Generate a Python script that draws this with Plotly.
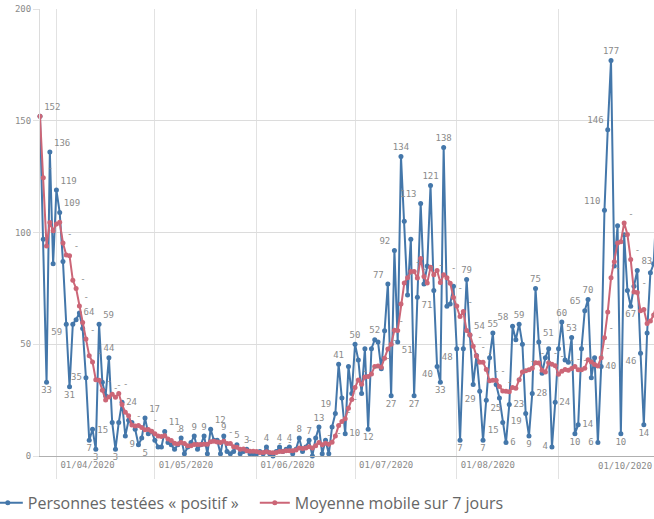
import pandas as pd
import plotly.graph_objects as go

start_date = "2020-03-27"

positifs = [
    # mars (27-31)
    152, 97, 33, 136, 86,
    # avril
    119, 109, 87, 59, 31, 59, 61, 64, 57, 35, 7, 12, 3, 59, 33,
    27, 44, 15, 3, 15, 24, 9, 16, 15, 12, 5, 8, 17, 10, 11,
    # mai
    7, 4, 4, 11, 6, 5, 3, 5, 8, 1, 4, 6, 9, 3, 5, 9, 1, 12, 7, 7,
    1, 9, 2, 1, 2, 5, 1, 2, 3, 1, 1,
    # juin
    1, 2, 1, 4, 1, 0, 2, 4, 2, 3, 4, 1, 3, 8, 2, 4, 7, 0, 8, 13,
    1, 7, 1, 13, 19, 41, 26, 10, 40, 28,
    # juillet
    50, 43, 28, 48, 12, 48, 52, 51, 39, 56, 77, 27, 92, 51, 134, 105, 72, 97, 27, 71,
    113, 77, 85, 121, 74, 40, 33, 138, 67, 68, 76,
    # aout
    48, 7, 48, 79, 54, 32, 45, 29, 7, 25, 44, 55, 32, 26, 15, 6, 23, 58, 52, 59,
    50, 19, 9, 28, 75, 51, 37, 44, 48, 4, 24,
    # septembre
    48, 60, 43, 42, 53, 10, 14, 48, 65, 70, 35, 44, 6, 40, 110, 146, 177, 85, 103, 10,
    99, 74, 67, 76, 83, 46, 14, 55, 82, 86,
    # octobre
    115,
]

moyenne_7j = [
    152, 124.5, 94, 104.5, 100.8, 103.8, 104.6, 95.3, 89.9, 89.6, 78.6, 75, 67.1, 59.7,
    52.3, 44.9, 42.1, 34.1, 33.9, 29.4, 25.1, 26.4, 27.6, 26.3, 28, 23, 19.6, 18, 13.9,
    13.4, 13.7, 12.7, 11.7, 11.9, 11.1, 10, 8.9, 8.7, 9.1, 7.6, 6.9, 5.7, 5.4, 6, 5.6,
    4.6, 4.6, 5.1, 5.1, 5.1, 5.3, 5.3, 6.4, 6.6, 6.3, 6, 6.6, 5.6, 5.6, 4.1, 3.9, 3,
    3.1, 2.3, 2.1, 2.1, 2, 1.6, 1.6, 1.9, 1.6, 1.4, 1.6, 2, 2, 2.3, 2.3, 2.3, 2.7, 3.6,
    3.3, 3.6, 4.1, 3.6, 4.6, 6, 5, 5.7, 5.3, 6.1, 8.9, 13.6, 15.4, 16.7, 21.4, 25.3,
    30.6, 34, 32.1, 35.3, 35.6, 36.7, 40.1, 40.3, 39.7, 43.7, 47.9, 50, 56.3, 56.1, 68,
    77.4, 79.7, 82.6, 82.6, 79.6, 88.4, 80.3, 77.4, 84.4, 81.1, 83, 77.6, 81.1, 79.7,
    77.3, 70.9, 67.1, 62.4, 64.6, 56.1, 54.3, 49.1, 44.7, 42, 42, 38.7, 33.7, 33.9, 33.9,
    31.1, 29.1, 29, 28.7, 30.7, 30.3, 34.1, 37.6, 38.1, 38.6, 39.3, 41.7, 41.6, 38.4,
    37.6, 41.7, 41, 40.4, 36.6, 37.9, 38.7, 38.4, 39.1, 40, 38.6, 38.6, 39.3, 43.1, 42.1,
    40.9, 40.3, 44, 52.9, 64.4, 79.7, 86.9, 95.3, 95.9, 104.3, 99.1, 87.9, 73.4, 73.1,
    65, 65.6, 59.3, 60.4, 63.1, 68.7,
]

dates = pd.date_range(start_date, periods=len(positifs), freq="D")

label_pos = {0: "top right", 2: "bottom center", 3: "top right", 5: "top right", 6: "top right",
             8: "bottom left", 9: "bottom center", 12: "middle right", 14: "middle left",
             15: "bottom center", 17: "bottom center", 18: "top right", 21: "top center",
             22: "bottom left", 23: "bottom center", 25: "middle right", 26: "bottom right",
             30: "bottom right", 32: "top right", 38: "top right", 43: "top center",
             47: "top center", 50: "top center", 52: "top right", 56: "top center",
             60: "top center", 63: "top center", 69: "top center", 73: "top center",
             76: "top center", 79: "top center", 82: "top center", 85: "top center",
             90: "top left", 91: "top center", 93: "middle right", 96: "top center",
             100: "bottom center", 102: "top center", 106: "top left", 107: "bottom center",
             108: "top left", 109: "bottom right", 110: "top center", 114: "bottom center",
             115: "bottom right", 116: "top left", 119: "top center", 121: "bottom left",
             122: "bottom center", 123: "top center", 127: "bottom left", 128: "bottom center",
             130: "top center", 131: "top right", 134: "bottom left", 135: "bottom center",
             136: "bottom right", 138: "top center", 141: "bottom left", 142: "middle right",
             143: "middle right", 144: "top left", 146: "top center", 148: "bottom left",
             149: "bottom center", 150: "middle right", 151: "top center", 152: "top right",
             156: "middle left", 157: "middle right", 159: "top center", 162: "top center",
             163: "bottom center", 164: "middle right", 166: "top left", 167: "top center",
             170: "middle left", 171: "middle right", 172: "top left", 173: "top left",
             174: "top center", 177: "bottom center", 180: "bottom center", 182: "top right",
             183: "bottom left", 184: "bottom center", 188: "middle left"}

dash_idx = [1, 7, 9, 11, 12, 14, 16, 19, 21, 22, 24, 28, 33, 40, 56, 62, 63, 71, 74, 86, 89,
            92, 94, 97, 100, 104, 106, 108, 111, 113, 115, 117, 120, 124, 126, 129, 132, 133,
            135, 137, 139, 141, 144, 146, 148, 151, 153, 155, 157, 160, 162, 164, 166, 169,
            171, 172, 174, 176, 178, 180, 182, 185]

month_ticks = ["2020-04-01", "2020-05-01", "2020-06-01", "2020-07-01", "2020-08-01", "2020-09-01"]
month_text = ["01/04/2020", "01/05/2020", "01/06/2020", "01/07/2020", "01/08/2020", ""]
last_tick_text = "01/10/2020"

BLUE = "#4477aa"
RED = "#cc6677"
GRID = "#e2e2e2"
TXT = "#8a8a8a"
MONO = "DejaVu Sans Mono"

blue_text = [str(v) if i in label_pos else "" for i, v in enumerate(positifs)]
# the last point lies just past the right edge: pad its label so the digits stay on screen
blue_text[-1] = blue_text[-1] + "\u00a0\u00a0"
blue_pos = [label_pos.get(i, "top center") for i in range(len(positifs))]
red_text = ["-" if i in dash_idx else "" for i in range(len(moyenne_7j))]

fig = go.Figure()
fig.add_trace(go.Scatter(
    x=dates, y=positifs, name="Personnes testées « positif »",
    mode="lines+markers+text", text=blue_text, textposition=blue_pos,
    textfont=dict(family=MONO, size=9, color=TXT),
    line=dict(color=BLUE, width=2), marker=dict(color=BLUE, size=5),
    cliponaxis=False,
))
fig.add_trace(go.Scatter(
    x=dates, y=moyenne_7j, name="Moyenne mobile sur 7 jours",
    mode="lines+markers+text", text=red_text, textposition="top right",
    textfont=dict(family=MONO, size=9, color=TXT),
    line=dict(color=RED, width=2), marker=dict(color=RED, size=5),
    cliponaxis=False,
))

x_end = pd.Timestamp(start_date) + pd.Timedelta(days=187, hours=2, minutes=24)

fig.update_layout(
    width=654, height=519,
    margin=dict(l=40, r=0, t=9, b=63, autoexpand=False),
    paper_bgcolor="white", plot_bgcolor="white",
    showlegend=True,
    legend=dict(orientation="h", x=-0.085, xanchor="left", y=-0.105, yanchor="middle",
                font=dict(family="Open Sans", size=16, color="#666666"),
                bgcolor="rgba(0,0,0,0)", entrywidth=222, entrywidthmode="pixels"),
    xaxis=dict(type="date", range=[pd.Timestamp(start_date), x_end],
               tickvals=month_ticks, ticktext=month_text,
               ticks="outside", ticklen=22, tickcolor=GRID,
               ticklabelposition="outside right", ticklabelstandoff=0, ticklabelshift=3,
               showgrid=True, gridcolor=GRID, gridwidth=1,
               showline=True, linecolor="#b0b0b0", zeroline=False,
               tickfont=dict(family=MONO, size=9, color=TXT)),
    yaxis=dict(range=[0, 200], tickvals=[0, 50, 100, 150, 200],
               ticks="outside", ticklen=6, tickcolor=GRID,
               showgrid=True, gridcolor="#dcdcdc", showline=True, linecolor="#dcdcdc",
               zeroline=False, tickfont=dict(family=MONO, size=9, color=TXT)),
    annotations=[dict(text=last_tick_text, xref="paper", yref="paper", x=1, y=-0.022,
                      xanchor="right", yanchor="middle", showarrow=False,
                      font=dict(family=MONO, size=9, color=TXT))],
)

# remove the browser's default 8 px page margin so the figure fills the window exactly
fig.write_html("out.html",
               config={"displayModeBar": False},
               post_script="document.body.style.margin='0';document.body.style.overflow='hidden';")
